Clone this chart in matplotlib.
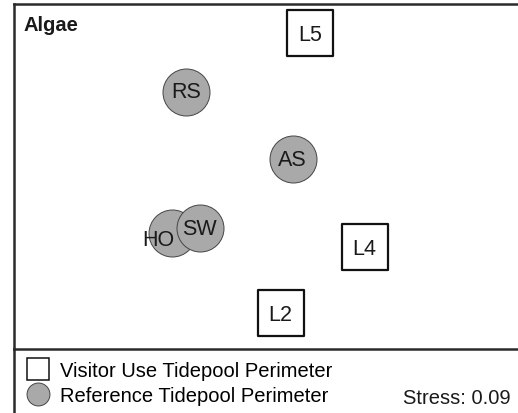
import matplotlib
matplotlib.use("Agg")
import matplotlib.pyplot as plt
from matplotlib.lines import Line2D

plt.rcParams['font.family'] = ['Liberation Sans', 'DejaVu Sans']

# NMDS ordination of algae communities (axis 1, axis 2)
visitor_sites = ["L5", "L4", "L2"]
visitor_x = [0.49, 0.80, 0.32]
visitor_y = [0.83, -0.41, -0.79]

reference_sites = ["RS", "AS", "HO", "SW"]
reference_x = [-0.22, 0.39, -0.30, -0.14]
reference_y = [0.49, 0.10, -0.33, -0.30]

stress = 0.09

W, H = 518, 414
fig = plt.figure(figsize=(W / 100, H / 100), dpi=100)

# main ordination panel (frame runs off the right edge like the original)
ax = fig.add_axes([14 / W, (H - 350) / H, (540 - 14) / W, (350 - 5) / H])
ax.set_xlim(-1.2, 1.8)
ax.set_ylim(-1.0, 1.0)
ax.set_xticks([])
ax.set_yticks([])
for side in ["left", "top", "bottom"]:
    ax.spines[side].set_linewidth(1.8)
    ax.spines[side].set_color("#2b2b2b")
ax.spines["right"].set_visible(False)

grey = "#a9a9a9"
ax.scatter(reference_x, reference_y, s=1145, marker="o", facecolor=grey,
           edgecolor="#444444", linewidth=0.7, zorder=2)
ax.scatter(visitor_x, visitor_y, s=1120, marker="s", facecolor="white",
           edgecolor="#111111", linewidth=1.6, zorder=2)

# label offsets in points
offsets = {"HO": (-10, -4.5)}
for name, x, y in zip(reference_sites + visitor_sites,
                      reference_x + visitor_x, reference_y + visitor_y):
    dx, dy = offsets.get(name, (0, -1 if name.startswith("L") else 0))
    ax.annotate(name, (x, y), xytext=(dx, dy), textcoords="offset points",
                ha="center", va="center", fontsize=15.5, color="#1a1a1a", zorder=3)

ax.text(0.019, 0.94, "Algae", transform=ax.transAxes, fontsize=14.5,
        fontweight="bold", color="#1a1a1a", ha="left", va="center")

# lower legend strip with left border only
lax = fig.add_axes([14 / W, -0.05, (540 - 14) / W, (H - 350) / H + 0.05])
lax.set_xticks([])
lax.set_yticks([])
for side in ["top", "right", "bottom"]:
    lax.spines[side].set_visible(False)
lax.spines["left"].set_linewidth(1.8)
lax.spines["left"].set_color("#2b2b2b")
lax.patch.set_alpha(0)

handles = [
    Line2D([], [], linestyle="none", marker="s", markersize=16.5,
           markerfacecolor="white", markeredgecolor="#111111", markeredgewidth=1.1),
    Line2D([], [], linestyle="none", marker="o", markersize=16.5,
           markerfacecolor=grey, markeredgecolor="#444444", markeredgewidth=0.7),
]
fig.legend(handles, ["Visitor Use Tidepool Perimeter", "Reference Tidepool Perimeter"],
           loc="upper left", bbox_to_anchor=(25 / W, (H - 362) / H),
           frameon=False, fontsize=14.5, borderpad=0, borderaxespad=0,
           handlelength=1.3, handletextpad=0.45, labelspacing=0.3)

fig.text(403 / W, (H - 399) / H, "Stress: %.2f" % stress, fontsize=14.5,
         color="#1a1a1a", ha="left", va="center")

fig.savefig("out.png", dpi=100)
